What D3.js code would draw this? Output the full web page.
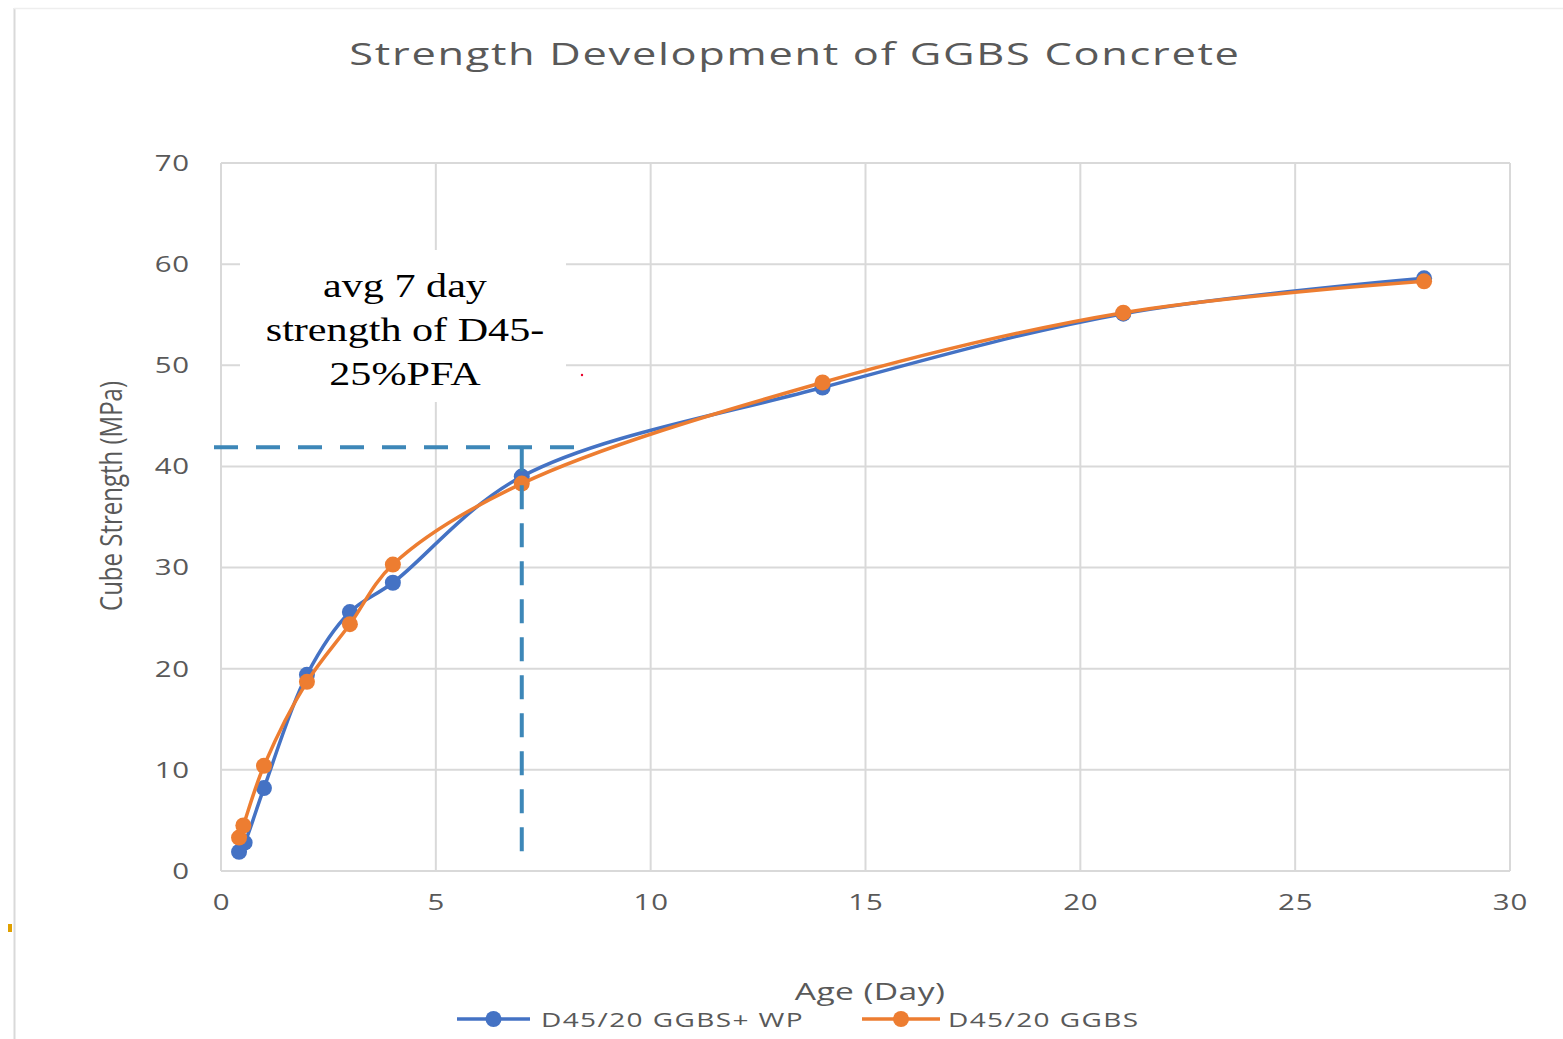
<!DOCTYPE html>
<html>
<head>
<meta charset="utf-8">
<script src="https://cdn.jsdelivr.net/npm/d3@7"></script>
<style>
  html, body { margin: 0; padding: 0; background: #fff; }
  svg { display: block; }
</style>
</head>
<body>
<svg id="chart" width="1563" height="1039"></svg>
<script>
// Cube strength (MPa) against age (days) for two GGBS mixes
const ageWP = [0.42, 0.55, 1, 2, 3, 4, 7, 14, 21, 28];
const strengthWP = [1.9, 2.8, 8.2, 19.4, 25.6, 28.5, 39.0, 47.8, 55.1, 58.6];
const ageGGBS = [0.42, 0.52, 1, 2, 3, 4, 7, 14, 21, 28];
const strengthGGBS = [3.3, 4.5, 10.4, 18.7, 24.4, 30.3, 38.3, 48.3, 55.2, 58.3];
const seriesNames = ["D45/20 GGBS+ WP", "D45/20 GGBS"];
const xTicks = [0, 5, 10, 15, 20, 25, 30];
const yTicks = [0, 10, 20, 30, 40, 50, 60, 70];
// Reference level: average 7-day strength of D45-25%PFA
const refAge = 7;
const refStrength = 41.9;
const noteLines = ["avg 7 day", "strength of D45-", "25%PFA"];

const svg = d3.select("#chart");
const colors = ["#4472c4", "#ed7d31"];
const grey = "#595959";
const sans = "Open Sans";
const stretch = 1.4; // text is drawn horizontally widened

const x = d3.scaleLinear().domain([0, 30]).range([221, 1510]);
const y = d3.scaleLinear().domain([0, 70]).range([871, 163]);

// text helper: places a string at (tx, ty) and widens it about that point
function label(parent, tx, ty, str, opts) {
  return parent.append("text")
    .attr("transform", `translate(${tx},${ty}) scale(${opts.sx || stretch},1)`)
    .attr("text-anchor", opts.anchor || "start")
    .attr("font-family", opts.family || sans)
    .attr("font-size", opts.size)
    .attr("font-weight", opts.weight || 400)
    .attr("letter-spacing", opts.ls || 0)
    .attr("fill", opts.fill || grey)
    .text(str);
}

// outer frame edges
svg.append("line").attr("x1", 14.5).attr("x2", 14.5).attr("y1", 8).attr("y2", 1039)
  .attr("stroke", "#d9d9d9").attr("stroke-width", 2);
svg.append("line").attr("x1", 14).attr("x2", 1563).attr("y1", 8.5).attr("y2", 8.5)
  .attr("stroke", "#eeeeee").attr("stroke-width", 1.5);
svg.append("rect").attr("x", 8).attr("y", 924).attr("width", 4).attr("height", 8).attr("fill", "#e0a000");

// title
label(svg, 795, 65, "Strength Development of GGBS Concrete",
  { anchor: "middle", size: 31, ls: 1.2, weight: 500 });

// gridlines
const grid = svg.append("g");
grid.selectAll("line.h").data(yTicks).join("line")
  .attr("x1", x(0)).attr("x2", x(30)).attr("y1", d => y(d)).attr("y2", d => y(d))
  .attr("stroke", "#d9d9d9").attr("stroke-width", 2);
grid.selectAll("line.v").data(xTicks).join("line")
  .attr("y1", y(0)).attr("y2", y(70)).attr("x1", d => x(d)).attr("x2", d => x(d))
  .attr("stroke", "#d9d9d9").attr("stroke-width", 2);

// axes (labels only, lines come from the grid)
const yAxis = svg.append("g").attr("transform", `translate(${x(0) - 31},0)`)
  .call(d3.axisLeft(y).tickValues(yTicks).tickSize(0).tickPadding(0));
const xAxis = svg.append("g").attr("transform", `translate(0,${y(0) + 24})`)
  .call(d3.axisBottom(x).tickValues(xTicks).tickSize(0).tickPadding(0));
[yAxis, xAxis].forEach(a => {
  a.select(".domain").remove();
  a.selectAll("text").attr("x", 0).attr("font-family", sans).attr("font-size", 21)
    .attr("letter-spacing", 0.6).attr("fill", grey)
    .attr("transform", `scale(${stretch},1)`);
});
yAxis.selectAll("text").attr("y", 0).attr("dy", "0.35em");
xAxis.selectAll("text").attr("y", 0).attr("dy", "0.71em");

// axis titles
svg.append("text").attr("transform", "translate(122,496) rotate(-90) scale(1,1.3)")
  .attr("text-anchor", "middle").attr("font-family", sans).attr("font-size", 24)
  .attr("fill", grey).text("Cube Strength (MPa)");
label(svg, 870, 1000, "Age (Day)", { anchor: "middle", size: 24, ls: 0.3 });

// series
const series = [
  { name: seriesNames[0], ages: ageWP, values: strengthWP, color: colors[0] },
  { name: seriesNames[1], ages: ageGGBS, values: strengthGGBS, color: colors[1] }
];
const line = d3.line().x(d => x(d[0])).y(d => y(d[1])).curve(d3.curveCatmullRom.alpha(0.5));
series.forEach(s => {
  const pts = s.ages.map((a, i) => [a, s.values[i]]);
  const g = svg.append("g");
  g.append("path").attr("d", line(pts)).attr("fill", "none")
    .attr("stroke", s.color).attr("stroke-width", 3.5);
  g.selectAll("circle").data(pts).join("circle")
    .attr("cx", d => x(d[0])).attr("cy", d => y(d[1])).attr("r", 8).attr("fill", s.color);
});

// annotation box
svg.append("rect").attr("x", 240).attr("y", 250).attr("width", 326).attr("height", 152).attr("fill", "#fff");
noteLines.forEach((t, i) => {
  label(svg, 405, 297 + i * 44, t,
    { anchor: "middle", family: "Liberation Serif", size: 34, sx: 1.24, fill: "#000" });
});
svg.append("circle").attr("cx", 582).attr("cy", 375).attr("r", 1.2).attr("fill", "#e8002a");

// dashed reference lines
const dashColor = "#3d87b8";
svg.append("line").attr("x1", 214).attr("x2", 575).attr("y1", y(refStrength)).attr("y2", y(refStrength))
  .attr("stroke", dashColor).attr("stroke-width", 4).attr("stroke-dasharray", "24,18");
svg.append("line").attr("x1", x(refAge)).attr("x2", x(refAge)).attr("y1", y(refStrength)).attr("y2", 853)
  .attr("stroke", dashColor).attr("stroke-width", 4).attr("stroke-dasharray", "24,14");

// legend
const legend = [
  { name: seriesNames[0], color: colors[0], x1: 457, x2: 530, tx: 541 },
  { name: seriesNames[1], color: colors[1], x1: 862, x2: 940, tx: 948 }
];
legend.forEach(l => {
  svg.append("line").attr("x1", l.x1).attr("x2", l.x2).attr("y1", 1019).attr("y2", 1019)
    .attr("stroke", l.color).attr("stroke-width", 3.5);
  svg.append("circle").attr("cx", (l.x1 + l.x2) / 2).attr("cy", 1019).attr("r", 8).attr("fill", l.color);
  label(svg, l.tx, 1027, l.name, { size: 20, ls: 1.0 });
});
</script>
</body>
</html>
